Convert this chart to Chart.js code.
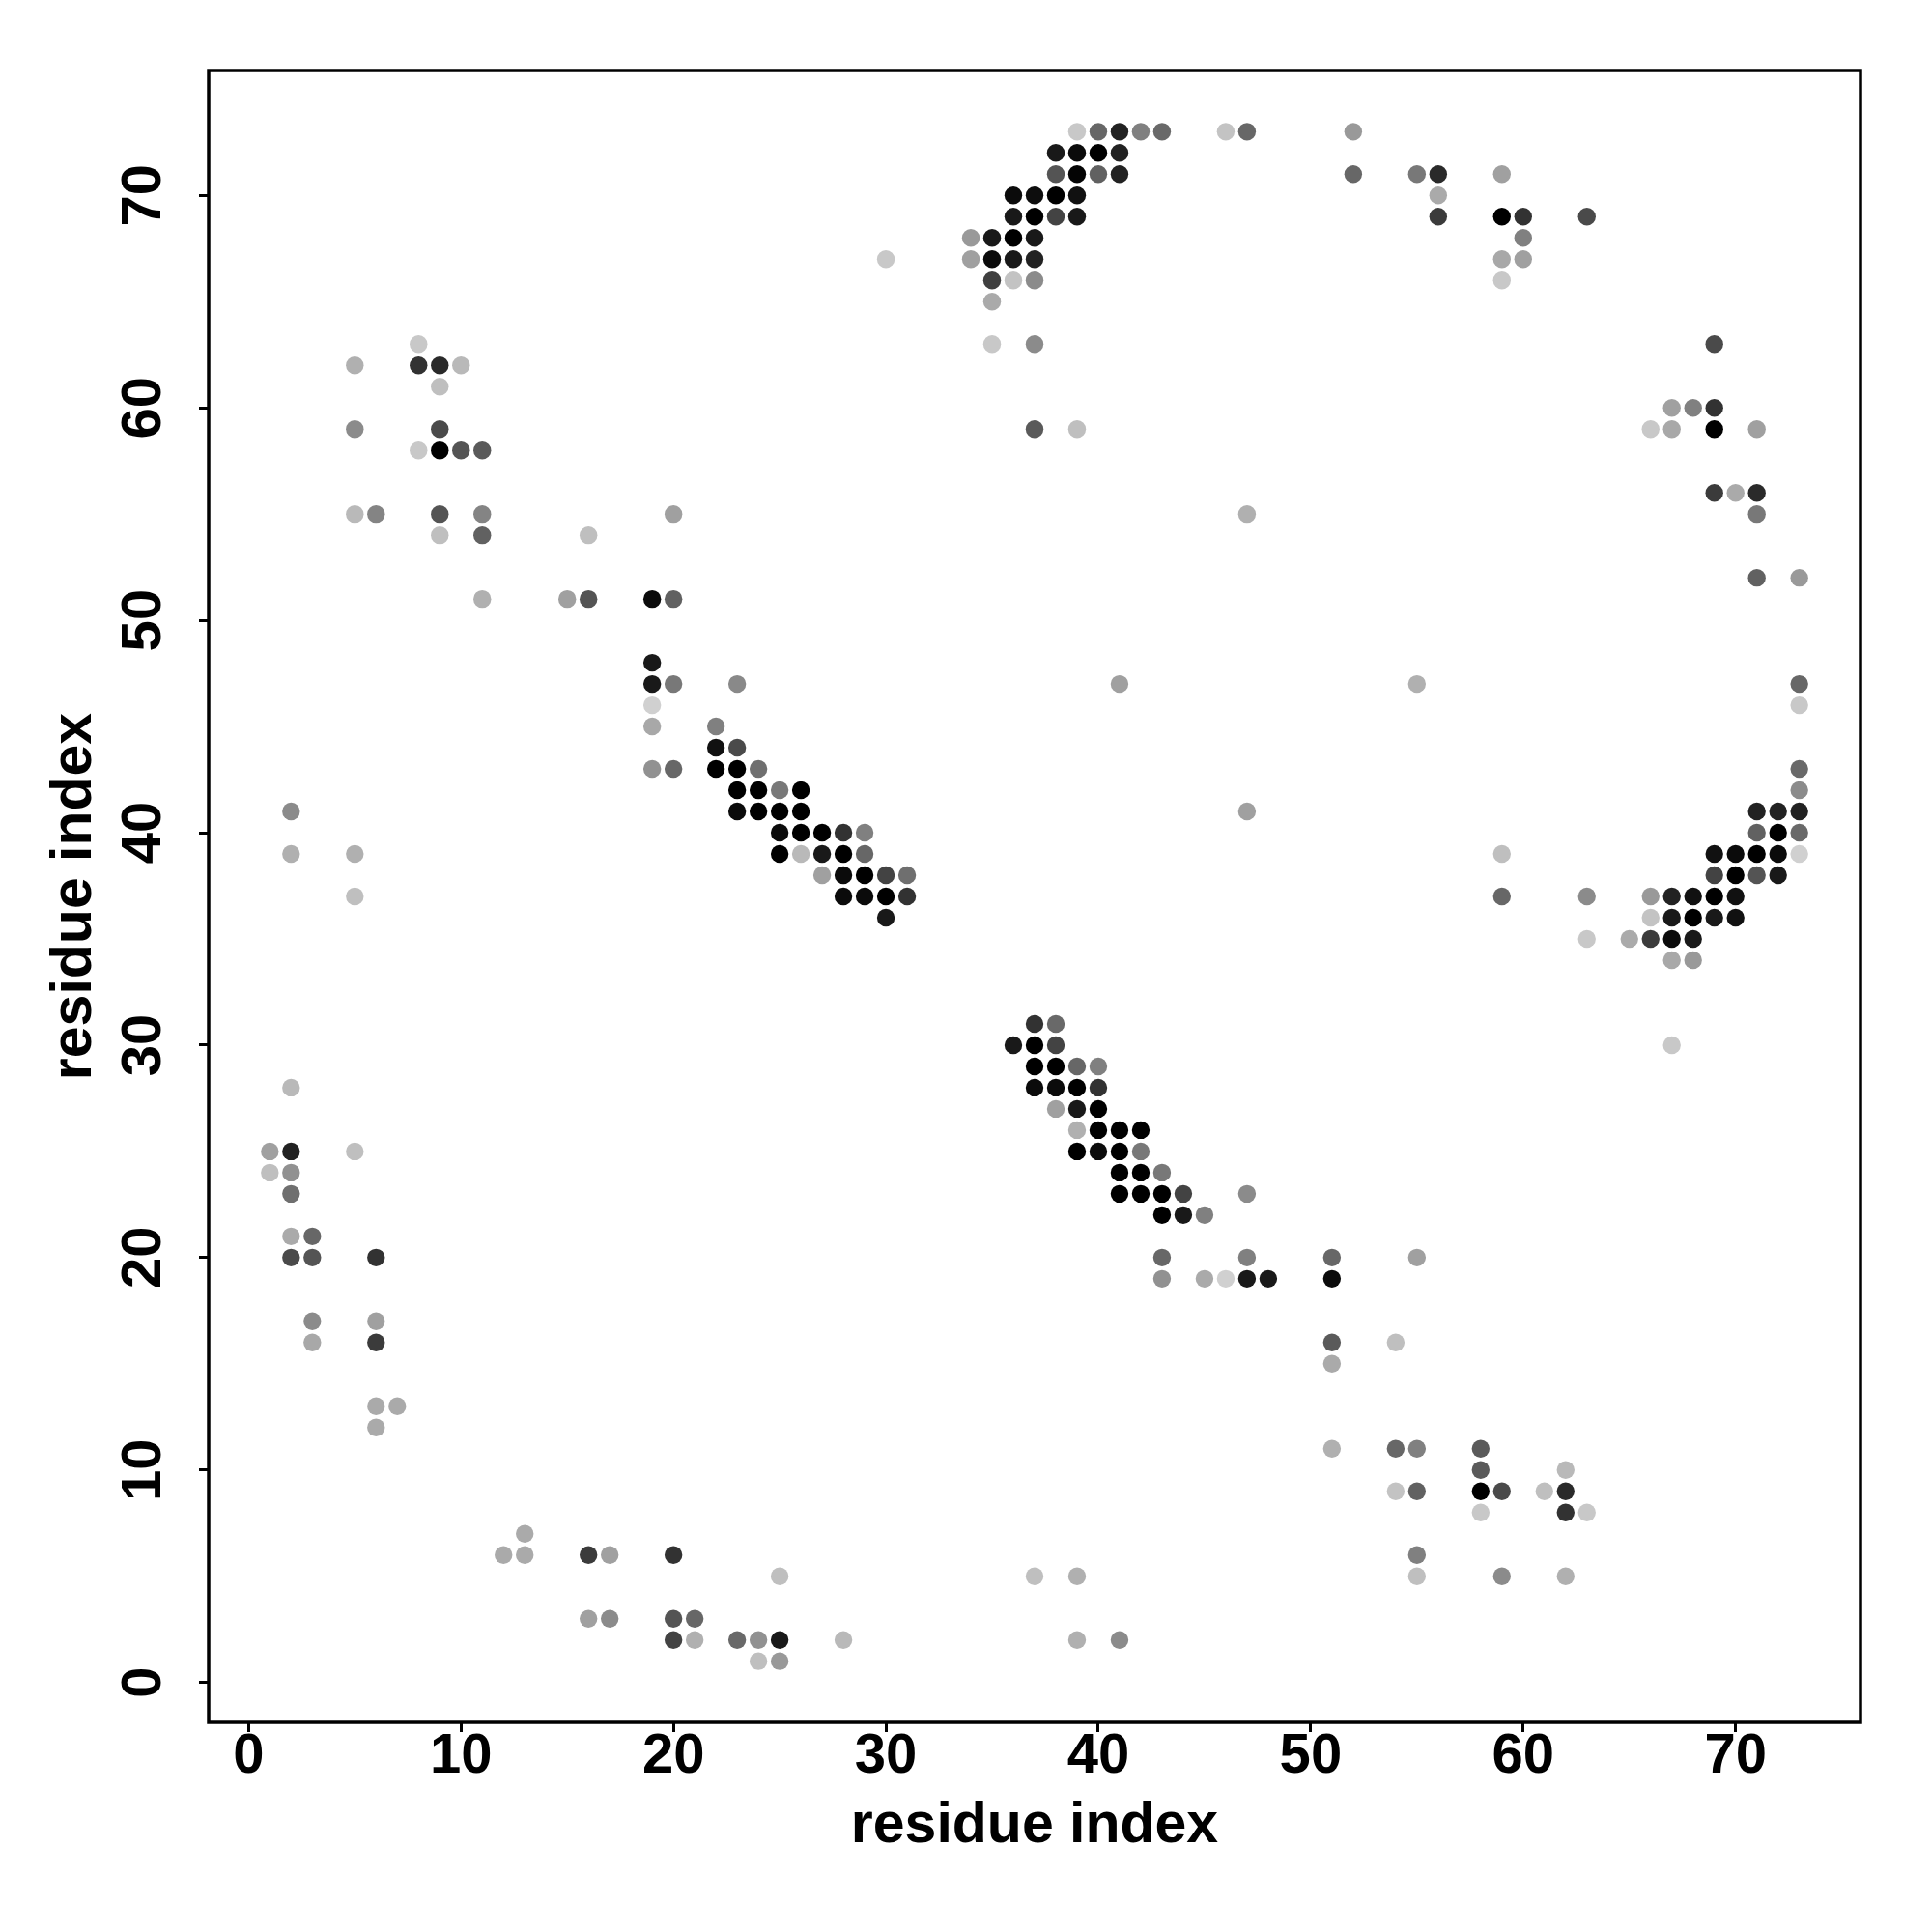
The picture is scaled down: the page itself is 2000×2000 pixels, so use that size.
<!DOCTYPE html>
<html>
<head>
<meta charset="utf-8">
<script src="https://cdn.jsdelivr.net/npm/chart.js@4/dist/chart.umd.min.js"></script>
<style>
html, body { margin: 0; padding: 0; background: #ffffff; }
#wrap { width: 2000px; height: 2000px; }
</style>
</head>
<body>
<div id="wrap"><canvas id="c" width="2000" height="2000"></canvas></div>
<script>
// ---- data: contact map (row residue index -> column residue indices + contact score 0..1) ----
const rowResidue = [73,72,71,70,69,68,67,66,65,63,62,61,60,59,58,56,55,54,52,51,48,47,46,45,44,43,42,41,40,39,38,37,36,35,34,31,30,29,28,27,26,25,24,23,22,21,20,19,17,16,15,13,12,11,10,9,8,7,6,5,3,2,1];

const colResidues = [
  [39,40,41,42,43,46,47,52],
  [38,39,40,41],
  [38,39,40,41,52,55,56,59],
  [36,37,38,39,56],
  [36,37,38,39,56,59,60,63],
  [34,35,36,37,60],
  [30,34,35,36,37,59,60],
  [35,36,37,59],
  [35],
  [8,35,37,69],
  [5,8,9,10],
  [9],
  [67,68,69],
  [5,9,37,39,66,67,69,71],
  [8,9,10,11],
  [69,70,71],
  [5,6,9,11,20,47,71],
  [9,11,16],
  [71,73],
  [11,15,16,19,20],
  [19],
  [19,20,23,41,55,73],
  [19,73],
  [19,22],
  [22,23],
  [19,20,22,23,24,73],
  [23,24,25,26,73],
  [2,23,24,25,26,47,71,72,73],
  [25,26,27,28,29,71,72,73],
  [2,5,25,26,27,28,29,59,69,70,71,72,73],
  [27,28,29,30,31,69,70,71,72],
  [5,28,29,30,31,59,63,66,67,68,69,70],
  [30,66,67,68,69,70],
  [63,65,66,67,68],
  [67,68],
  [37,38],
  [36,37,38,67],
  [37,38,39,40],
  [2,37,38,39,40],
  [38,39,40],
  [39,40,41,42],
  [1,2,5,39,40,41,42],
  [1,2,41,42,43],
  [2,41,42,43,44,47],
  [43,44,45],
  [2,3],
  [2,3,6,43,47,51,55],
  [43,45,46,47,48,51],
  [3,6],
  [3,6,51,54],
  [51],
  [6,7],
  [6],
  [51,54,55,58],
  [58,62],
  [54,55,58,59,61,62],
  [58,62,63],
  [13],
  [12,13,16,17,20,55],
  [25,37,39,55,59,62],
  [16,17,20,21],
  [20,21,23,24,25,28,39,41],
  [24,25]
];

const contactScores = [
  [0.05,0.51,0.84,0.39,0.50,0.07,0.51,0.27],
  [0.88,0.95,1.00,0.84],
  [0.60,0.98,0.54,0.84,0.51,0.43,0.80,0.24],
  [0.95,0.94,1.00,0.92,0.19],
  [0.88,1.00,0.68,0.88,0.72,1.00,0.76,0.65],
  [0.27,0.88,1.00,0.88,0.39],
  [0.05,0.24,0.95,0.88,0.84,0.20,0.24],
  [0.70,0.07,0.34,0.05],
  [0.19],
  [0.05,0.05,0.34,0.65],
  [0.16,0.76,0.80,0.12],
  [0.09],
  [0.24,0.39,0.76],
  [0.34,0.65,0.57,0.09,0.05,0.20,1.00,0.24],
  [0.05,1.00,0.60,0.57],
  [0.72,0.19,0.80],
  [0.12,0.37,0.60,0.37,0.24,0.16,0.43],
  [0.09,0.54,0.09],
  [0.54,0.27],
  [0.16,0.24,0.60,0.95,0.54],
  [0.88],
  [0.88,0.43,0.35,0.24,0.16,0.51],
  [0.01,0.05],
  [0.20,0.39],
  [0.92,0.65],
  [0.31,0.51,1.00,1.00,0.47,0.50],
  [1.00,1.00,0.43,1.00,0.34],
  [0.34,0.95,1.00,1.00,1.00,0.24,0.84,0.84,0.84],
  [0.95,1.00,1.00,0.76,0.39,0.54,1.00,0.50],
  [0.16,0.16,1.00,0.12,0.88,1.00,0.51,0.09,0.92,0.95,1.00,0.95,0.01],
  [0.24,0.95,1.00,0.68,0.47,0.68,1.00,0.60,0.88],
  [0.09,0.95,0.95,1.00,0.76,0.51,0.34,0.27,0.84,0.92,1.00,0.92],
  [0.88,0.07,0.88,1.00,0.88,0.92],
  [0.05,0.19,0.72,0.95,0.88],
  [0.20,0.27],
  [0.76,0.50],
  [0.88,1.00,0.68,0.05],
  [1.00,1.00,0.51,0.39],
  [0.12,0.95,0.95,1.00,0.76],
  [0.24,0.88,1.00],
  [0.16,1.00,1.00,1.00],
  [0.24,0.84,0.09,1.00,0.95,1.00,0.43],
  [0.09,0.31,1.00,1.00,0.43],
  [0.47,1.00,1.00,1.00,0.68,0.34],
  [1.00,0.88,0.39],
  [0.19,0.51],
  [0.65,0.60,0.76,0.51,0.39,0.51,0.24],
  [0.31,0.19,0.01,0.88,0.88,0.95],
  [0.34,0.24],
  [0.20,0.72,0.57,0.09],
  [0.19],
  [0.19,0.19],
  [0.19],
  [0.16,0.51,0.39,0.57],
  [0.57,0.12],
  [0.07,0.54,1.00,0.65,0.09,0.80],
  [0.05,0.76,0.05],
  [0.19],
  [0.19,0.19,0.72,0.24,0.76,0.39],
  [0.09,0.09,0.16,0.09,0.34,0.16],
  [0.24,0.34,0.60,0.51],
  [0.68,0.16,0.50,0.31,0.88,0.12,0.16,0.34],
  [0.09,0.27]
];

const tickValues = [0, 10, 20, 30, 40, 50, 60, 70];
const axisMin = -1.88;
const axisMax = 75.88;
const xTitle = 'residue index';
const yTitle = 'residue index';

// ---- build dataset ----
const points = [];
const colors = [];
rowResidue.forEach((yv, r) => {
  colResidues[r].forEach((xv, k) => {
    points.push({ x: xv, y: yv });
    const g = Math.round(210 * (1 - contactScores[r][k]));
    colors.push('rgb(' + g + ',' + g + ',' + g + ')');
  });
});

const fontFamily = "'Liberation Sans', Arial, Helvetica, sans-serif";
const tickFont = { family: fontFamily, size: 58, weight: 'bold' };
const titleFont = { family: fontFamily, size: 59, weight: 'bold' };

const framePlugin = {
  id: 'frame',
  afterDatasetsDraw(chart) {
    const { ctx, chartArea: a } = chart;
    ctx.save();
    ctx.strokeStyle = '#000';
    ctx.lineWidth = 3.5;
    ctx.strokeRect(a.left, a.top, a.right - a.left, a.bottom - a.top);
    ctx.restore();
  }
};

const setTicks = (s) => { s.ticks = tickValues.map(v => ({ value: v })); };

new Chart(document.getElementById('c'), {
  type: 'scatter',
  data: {
    datasets: [{
      data: points,
      backgroundColor: colors,
      pointRadius: 9.2,
      pointHoverRadius: 9.2,
      pointBorderWidth: 0,
      borderWidth: 0
    }]
  },
  options: {
    responsive: false,
    animation: false,
    devicePixelRatio: 1,
    events: [],
    layout: { padding: { left: 0, right: 74, top: 73, bottom: 0 } },
    plugins: { legend: { display: false }, tooltip: { enabled: false } },
    scales: {
      x: {
        type: 'linear',
        min: axisMin,
        max: axisMax,
        afterBuildTicks: setTicks,
        afterFit: (s) => { s.height = 217; },
        grid: { drawOnChartArea: false, drawTicks: true, tickLength: 10, tickWidth: 3, tickColor: '#000' },
        border: { display: false },
        ticks: { font: tickFont, color: '#000', padding: -9, minRotation: 0, maxRotation: 0, autoSkip: false },
        title: { display: true, text: xTitle, font: titleFont, color: '#000', padding: { top: 0, bottom: 74 } }
      },
      y: {
        type: 'linear',
        min: axisMin,
        max: axisMax,
        afterBuildTicks: setTicks,
        afterFit: (s) => { s.width = 216; },
        grid: { drawOnChartArea: false, drawTicks: true, tickLength: 10, tickWidth: 3, tickColor: '#000' },
        border: { display: false },
        ticks: { font: tickFont, color: '#000', padding: 24, minRotation: 90, maxRotation: 90, crossAlign: 'center', autoSkip: false },
        title: { display: true, text: yTitle, font: titleFont, color: '#000', padding: { top: 42, bottom: 0 } }
      }
    }
  },
  plugins: [framePlugin]
});
</script>
</body>
</html>
